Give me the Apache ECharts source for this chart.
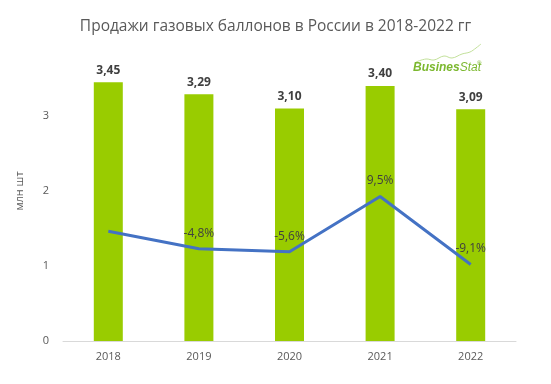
<!DOCTYPE html>
<html><head><meta charset="utf-8">
<script src="https://cdn.jsdelivr.net/npm/echarts@6/dist/echarts.min.js"></script>
<style>html,body{margin:0;padding:0;background:#fff}#c{width:551px;height:384px}</style>
</head><body><div id="c"></div>
<script>
var years = ['2018','2019','2020','2021','2022'];
var sales = [3.45, 3.29, 3.10, 3.40, 3.09];
var growth = [0, -4.8, -5.6, 9.5, -9.1];
var growthLabels = ['', '-4,8%', '-5,6%', '9,5%', '-9,1%'];
var yTicks = [0, 1, 2, 3];

var chart = echarts.init(document.getElementById('c'));
var font = '"Open Sans", "Liberation Sans", sans-serif';
chart.setOption({
  animation: false,
  textStyle: {fontFamily: font},
  title: {
    text: 'Продажи газовых баллонов в России в 2018-2022 гг',
    left: 'center', top: 14,
    textStyle: {fontSize: 15.5, fontWeight: 'normal', color: '#595959', fontFamily: font}
  },
  grid: {left: 63, right: 35, top: 41, bottom: 43},
  xAxis: {
    type: 'category', data: years,
    axisLine: {lineStyle: {color: '#d9d9d9', width: 1}},
    axisTick: {show: false},
    axisLabel: {color: '#595959', fontSize: 11, margin: 10}
  },
  yAxis: [{
    type: 'value', min: 0, max: 4, interval: 1,
    name: 'млн шт', nameLocation: 'middle', nameGap: 38, nameRotate: 90,
    nameTextStyle: {color: '#595959', fontSize: 11},
    axisLine: {show: false}, axisTick: {show: false},
    splitLine: {show: false},
    axisLabel: {color: '#595959', fontSize: 11, margin: 14, showMaxLabel: false,
      formatter: function(v){ return yTicks.indexOf(v) >= 0 ? String(v) : ''; }}
  }, {
    type: 'value', min: -30, max: 52, show: false, splitLine: {show: false}
  }],
  series: [{
    type: 'bar', data: sales, barWidth: 29,
    itemStyle: {color: '#99cc00'},
    label: {show: true, position: 'top', distance: 6, color: '#404040', fontWeight: 'bold', fontSize: 12,
      formatter: function(p){ return p.value.toFixed(2).replace('.', ','); }}
  }, {
    type: 'line', yAxisIndex: 1, data: growth,
    symbol: 'circle', symbolSize: 1, showSymbol: true,
    itemStyle: {color: 'rgba(68,114,196,0)'},
    lineStyle: {color: '#4472c4', width: 3},
    label: {show: true, position: 'top', distance: 9, color: '#404040', fontSize: 12,
      formatter: function(p){ return growthLabels[p.dataIndex]; }}
  }],
  graphic: [
    {type: 'polyline', shape: {points: [[416,62],[426,59],[434,60],[444,56],[452,58],[462,54],[470,52],[476,48],[481,44]], smooth: 0.4},
     style: {stroke: '#c2e09a', lineWidth: 1, fill: null}},
    {type: 'text', left: 413, top: 62,
     style: {text: '{a|Busines}{b|Stat}', rich: {
       a: {font: 'italic bold 12px "Liberation Sans", sans-serif', fill: '#7cb82f', color: '#7cb82f'},
       b: {font: 'italic 12px "Liberation Sans", sans-serif', fill: '#7cb82f', color: '#7cb82f'}
     }}},
    {type: 'text', left: 477, top: 60,
     style: {text: '®', font: '6px "Liberation Sans", sans-serif', fill: '#7cb82f'}}
  ]
});
</script></body></html>
